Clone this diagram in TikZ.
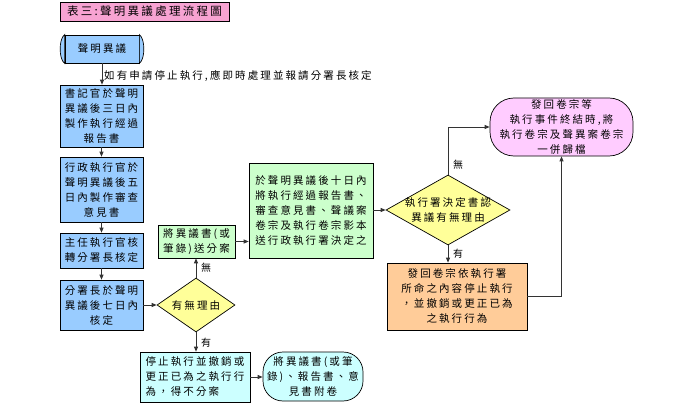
\documentclass[tikz,border=0pt]{standalone}
\usepackage{fontspec}
\setmainfont{Noto Sans CJK TC}[LetterSpace=20]
\usetikzlibrary{arrows.meta,shapes.geometric}
\definecolor{bluef}{HTML}{99CCFF}
\definecolor{titlef}{HTML}{F7A3D2}
\definecolor{pinkf}{HTML}{FFCCFF}
\definecolor{yelf}{HTML}{FFFF99}
\definecolor{greenf}{HTML}{CCFFCC}
\definecolor{orangef}{HTML}{FFCC99}
\definecolor{cyanf}{HTML}{CCFFFF}
\definecolor{linec}{HTML}{333333}
\begin{document}
\begin{tikzpicture}[x=1pt,y=-1pt,
  font=\fontsize{10.5}{15}\selectfont,
  box/.style={draw=black, line width=0.7pt, inner sep=1pt, align=center},
  bluebox/.style={box, fill=bluef},
  greenbox/.style={box, fill=greenf},
  dia/.style={draw=black, line width=0.7pt, shape=diamond, inner sep=0pt, fill=yelf},
  conn/.style={draw=linec, line width=0.8pt, -{Triangle[length=5pt,width=4pt]}},
  lbl/.style={inner sep=0pt, font=\fontsize{10}{12}\selectfont},
  ]
\useasboundingbox (0,0) rectangle (694,404);
% title
\node[box, fill=titlef, minimum width=169pt, minimum height=19pt, inner sep=0pt,
      font=\fontsize{11.5}{14}\selectfont] (t) at (144.5,11.5) {表三:聲明異議處理流程圖};
% start
\node[bluebox, minimum width=74pt, minimum height=28pt] (s) at (102,49) {聲明異議};
\filldraw[fill=bluef, draw=black, line width=0.7pt] (s.north west) .. controls +(-6,4) and +(-6,-4) .. (s.south west) -- cycle;
\filldraw[fill=bluef, draw=black, line width=0.7pt] (s.north east) .. controls +(6,4) and +(6,-4) .. (s.south east) -- cycle;
% left column
\node[bluebox, minimum width=83pt, minimum height=62pt] (b1) at (101.5,116) {書記官於聲明\\異議後三日內\\製作執行經過\\報告書};
\node[bluebox, minimum width=83pt, minimum height=65pt] (b2) at (101.5,189.5) {行政執行官於\\聲明異議後五\\日內製作審查\\意見書};
\node[bluebox, minimum width=83pt, minimum height=35pt] (b3) at (101.5,250.5) {主任執行官核\\轉分署長核定};
\node[bluebox, minimum width=83pt, minimum height=50pt] (b4) at (101.5,305) {分署長於聲明\\異議後七日內\\核定};
% diamond 1
\node[dia, minimum width=78pt, minimum height=54pt] (d1) at (196,305) {};
\node[inner sep=0pt] (d1t) at (d1.center) {有無理由};
% green boxes
\node[greenbox, minimum width=77pt, minimum height=33pt] (g1) at (196.5,241.5) {將異議書(或\\筆錄)送分案};
\node[greenbox, minimum width=124pt, minimum height=95pt, align=left] (g2) at (311,210.5) {於聲明異議後十日內\\將執行經過報告書、\\審查意見書、聲議案\\卷宗及執行卷宗影本\\送行政執行署決定之};
% diamond 2
\node[dia, minimum width=124pt, minimum height=70pt] (d2) at (448,210) {};
\node[inner sep=0pt, align=center] (d2t) at (d2.center) {執行署決定書認\\異議有無理由};
% pink terminal
\node[box, fill=pinkf, rounded corners=24pt, minimum width=143pt, minimum height=58pt] (pk) at (561.5,127) {發回卷宗等\\執行事件終結時,將\\執行卷宗及聲異案卷宗\\一併歸檔};
% orange
\node[box, fill=orangef, minimum width=140pt, minimum height=67pt] (or) at (457,296.5) {發回卷宗依執行署\\所命之內容停止執行\\，並撤銷或更正已為\\之執行行為};
% cyan
\node[box, fill=cyanf, minimum width=110pt, minimum height=50pt, align=left] (cy) at (195,377) {停止執行並撤銷或\\更正已為之執行行\\為，得不分案};
\node[box, fill=cyanf, rounded corners=20pt, minimum width=100pt, minimum height=49pt] (rd) at (313,376.5) {將異議書(或筆\\錄)、報告書、意\\見書附卷};
% connectors
\draw[conn] (s.south) -- (s.south |- b1.north);
\node[lbl, anchor=west, font=\fontsize{10.5}{12}\selectfont] (l0) at (104,76) {如有申請停止執行,應即時處理並報請分署長核定};
\draw[conn] (b1.south) -- (b1.south |- b2.north);
\draw[conn] (b2.south) -- (b2.south |- b3.north);
\draw[conn] (b3.south) -- (b3.south |- b4.north);
\draw[conn] (b4.east) -- (d1.west);
\draw[conn] (d1.north) -- (d1.north |- g1.south);
\node[lbl] (n1) at (206,268) {無};
\draw[conn] (d1.south) -- (d1.south |- cy.north);
\node[lbl] (y1) at (206,343) {有};
\draw[conn] (g1.east) -- (g1.east -| g2.west);
\draw[conn] (g2.east |- d2.west) -- (d2.west);
\draw[conn] (d2.north) |- (pk.west);
\node[lbl] (n2) at (458,165) {無};
\draw[conn] (d2.south) -- (d2.south |- or.north);
\node[lbl] (y2) at (458,254) {有};
\draw[conn] (or.east) -| (pk.south);
\draw[conn] (cy.east) -- (cy.east -| rd.west);
\end{tikzpicture}
\end{document}
